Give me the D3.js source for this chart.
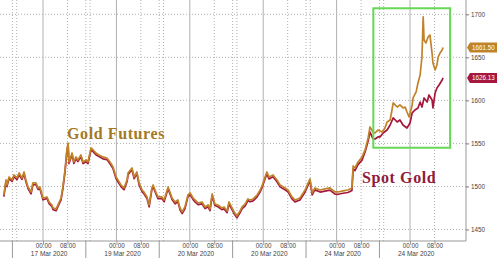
<!DOCTYPE html>
<html>
<head>
<meta charset="utf-8">
<script src="https://cdnjs.cloudflare.com/ajax/libs/d3/7.8.5/d3.min.js"></script>
<style>
body { margin: 0; background: #fff; }
svg { display: block; }
</style>
</head>
<body>
<svg></svg>
<script>
// hours since 17 Mar 00:00 (trading-time axis), prices in USD/oz
const futHours = [
  -12.8,-12.1,-11.8,-11.1,-10.1,-9.5,-8.5,-7.8,-6.9,-6.2,
  -5.6,-4.9,-3.9,-3.3,-2.3,-1.6,-1.0,-0.3,0,1.3,
  2.0,2.9,3.3,4.3,4.9,5.9,6.5,7.2,7.8,8.2,
  8.5,9.5,10.1,10.8,11.4,12.4,13.1,14.1,14.7,15.7,
  16.4,17.3,18.3,19.6,20.9,21.9,22.9,23.9,24.5,25.5,
  26.5,27.5,27.8,29.1,29.8,30.7,31.4,32.4,33.0,34.0,
  34.7,35.6,36.0,37.0,37.6,38.9,39.6,40.9,41.5,42.2,
  43.2,44.1,44.8,45.5,46.4,47.4,48.1,49.1,49.7,50.7,
  52.0,53.0,54.0,54.6,55.3,56.2,57.2,58.5,59.2,60.2,
  60.8,61.8,62.5,63.4,64.4,65.1,66.1,67.0,67.7,68.7,
  70.0,71.0,71.6,72.6,73.2,73.9,75.2,76.5,77.5,79.1,
  80.1,81.4,82.4,84.0,85.7,86.7,87.3,88.0,88.9,90.6,
  92.2,93.8,95.5,96.5,98.1,99.7,101.0,101.4,102.0,103.0,
  104.3,105.3,106.3,106.9,107.9,108.6,109.5,110.9,111.8,112.5,
  113.5,114.1,114.5,115.8,116.7,117.7,118.4,119.0,119.7,120.7,
  121.0,122.0,122.6,123.3,123.9,124.3,124.6,125.2,125.9,126.5,
  127.2,127.5,128.2,128.8,129.2,129.8,130.5,130.8
];
const futPrice = [
  1490.1,1507.6,1501.7,1511.0,1507.6,1513.4,1509.9,1515.7,1509.9,1516.8,
  1507.6,1499.4,1493.6,1504.1,1504.1,1498.3,1499.4,1490.1,1486.6,1487.8,
  1482.0,1478.5,1475.0,1473.9,1478.5,1486.6,1499.4,1519.2,1542.4,1550.5,
  1528.5,1538.9,1528.5,1534.3,1530.8,1536.6,1528.5,1530.8,1528.5,1544.7,
  1542.4,1538.9,1536.6,1534.3,1533.1,1528.5,1522.6,1511.0,1507.6,1501.7,
  1498.3,1507.6,1515.7,1521.5,1511.0,1516.8,1504.1,1495.9,1493.6,1487.8,
  1478.5,1498.3,1501.7,1492.5,1487.8,1487.8,1484.3,1499.4,1493.6,1486.6,
  1482.0,1484.3,1475.0,1470.4,1476.2,1490.1,1492.5,1486.6,1484.3,1480.8,
  1482.0,1476.2,1478.5,1473.9,1491.3,1479.7,1478.5,1475.0,1476.2,1471.5,
  1482.0,1475.0,1470.4,1465.7,1471.5,1476.2,1479.7,1485.5,1484.3,1485.5,
  1490.1,1495.9,1500.6,1511.0,1516.8,1511.0,1513.4,1507.6,1501.7,1498.3,
  1495.9,1487.8,1484.3,1486.6,1495.9,1504.1,1508.7,1492.5,1498.3,1495.9,
  1497.1,1498.3,1493.6,1493.6,1494.8,1495.9,1498.3,1523.8,1521.5,1528.5,
  1534.3,1542.4,1556.3,1569.1,1563.3,1562.1,1565.6,1563.3,1567.9,1574.9,
  1577.2,1588.8,1597.0,1592.3,1594.7,1591.2,1592.3,1586.5,1580.7,1594.7,
  1602.8,1609.8,1620.2,1629.5,1650.4,1696.9,1670.1,1666.7,1673.6,1676.0,
  1655.0,1643.4,1635.3,1641.1,1650.4,1655.0,1658.5,1661.5
];

// spot gold: same stamps as futures until the split on 24 Mar
const spotHours = futHours.slice(0, 131).concat([
  105.3,106.3,106.9,107.9,108.6,109.5,110.2,111.2,112.5,113.5,
  114.5,115.8,116.7,117.7,119.0,120.0,120.7,121.6,122.6,123.3,
  123.9,124.6,125.6,126.2,127.2,127.5,128.2,128.8,129.5,130.5,130.8
]);
const spotPrice = [
  1488.3,1505.5,1499.8,1509.2,1505.9,1511.3,1508.0,1513.6,1508.2,1514.7,
  1505.8,1497.5,1491.4,1502.3,1502.0,1496.6,1497.2,1488.4,1484.5,1486.0,
  1480.1,1476.7,1473.0,1471.8,1476.8,1484.5,1497.6,1517.0,1540.1,1548.2,
  1526.6,1536.9,1526.7,1532.2,1528.9,1534.4,1526.6,1528.7,1526.5,1542.6,
  1540.5,1536.8,1534.7,1532.1,1531.2,1526.4,1520.7,1509.1,1505.4,1499.9,
  1496.2,1505.7,1513.5,1519.6,1509.0,1514.9,1502.0,1494.0,1491.5,1485.9,
  1476.4,1496.5,1499.6,1490.7,1485.7,1485.9,1482.2,1497.5,1491.6,1484.8,
  1479.9,1482.4,1472.9,1468.5,1474.1,1488.2,1490.3,1484.7,1482.1,1478.9,
  1479.8,1474.3,1476.3,1472.0,1489.2,1477.8,1476.4,1473.1,1474.0,1469.6,
  1479.9,1473.0,1468.4,1463.6,1469.4,1474.2,1477.5,1483.6,1482.2,1483.3,
  1488.0,1493.8,1498.5,1508.9,1514.6,1508.8,1511.2,1505.5,1499.5,1496.1,
  1493.7,1485.6,1482.1,1484.3,1493.6,1501.8,1506.4,1490.2,1496.0,1493.5,
  1494.6,1495.8,1491.0,1490.9,1492.1,1493.0,1495.4,1520.5,1518.4,1525.3,
  1530.6,
  1540.1,1552.8,1563.3,1555.2,1555.2,1557.5,1557.5,1562.1,1565.6,1571.4,
  1579.6,1574.9,1577.2,1571.4,1567.9,1573.7,1585.4,1588.8,1591.2,1598.1,
  1592.3,1602.8,1598.1,1606.3,1600.5,1591.2,1608.6,1614.4,1617.9,1623.7,1626.13
];

const dayStarts = [0, 24, 48, 72, 96, 120];
const dayLabels = ['17 Mar 2020', '19 Mar 2020', '20 Mar 2020', '20 Mar 2020', '24 Mar 2020', '24 Mar 2020'];
const timeTicks = [0, 8];          // 00:00, 08:00 within each day
const dottedOffsets = [-10, -8.6, 8];
const sessionBreak = -10;          // 14:00 of the previous day
const yTicks = [1450, 1500, 1550, 1600, 1650, 1700];
const lastFut = 1661.50, lastSpot = 1626.13;
const boxHours = [108, 133.1], boxPrices = [1545, 1707];

const w = 499, h = 258;
const plotRight = 466, axisY = 241;
const futColor = '#c0832a', spotColor = '#a5173c';

const svg = d3.select('svg').attr('width', w).attr('height', h);

const x = d3.scaleLinear().domain([-14.06, 138.3]).range([0, plotRight]);
const y = d3.scaleLinear().domain([1450, 1700]).range([229.5, 14.3]);

//grid
const grid = svg.append('g');
grid.selectAll('.hgrid').data(yTicks).enter().append('line')
  .attr('x1', 0).attr('x2', plotRight)
  .attr('y1', d => y(d)).attr('y2', d => y(d))
  .attr('stroke', '#b0b0b0').attr('stroke-dasharray', '1,2');

const dotted = [];
dayStarts.forEach(d => dottedOffsets.forEach(o => dotted.push(d + o)));
grid.selectAll('.vdot').data(dotted).enter().append('line')
  .attr('x1', d => x(d)).attr('x2', d => x(d))
  .attr('y1', 0).attr('y2', axisY)
  .attr('stroke', '#b0b0b0').attr('stroke-dasharray', '1,2');

grid.selectAll('.vday').data(dayStarts).enter().append('line')
  .attr('x1', d => x(d)).attr('x2', d => x(d))
  .attr('y1', 0).attr('y2', axisY)
  .attr('stroke', '#b0b0b0');

//series
const line = d3.line().x(d => x(d[0])).y(d => y(d[1]));
svg.append('path')
  .datum(spotHours.map((t, i) => [t, spotPrice[i]]))
  .attr('d', line).attr('fill', 'none')
  .attr('stroke', spotColor).attr('stroke-width', 1.7)
  .attr('stroke-linejoin', 'round');
svg.append('path')
  .datum(futHours.map((t, i) => [t, futPrice[i]]))
  .attr('d', line).attr('fill', 'none')
  .attr('stroke', futColor).attr('stroke-width', 1.7)
  .attr('stroke-linejoin', 'round');

//green highlight box
svg.append('rect')
  .attr('x', x(boxHours[0])).attr('y', y(boxPrices[1]))
  .attr('width', x(boxHours[1]) - x(boxHours[0]))
  .attr('height', y(boxPrices[0]) - y(boxPrices[1]))
  .attr('fill', 'none').attr('stroke', '#66d856').attr('stroke-width', 2);

//series labels
svg.append('text')
  .attr('x', x(7.85)).attr('y', y(1555.7))
  .attr('font-family', 'Liberation Serif').attr('font-weight', 'bold')
  .attr('font-size', 16).attr('letter-spacing', 0.6)
  .attr('fill', '#a27a26').text('Gold Futures');
svg.append('text')
  .attr('x', x(104.3)).attr('y', y(1504.1))
  .attr('font-family', 'Liberation Serif').attr('font-weight', 'bold')
  .attr('font-size', 16).attr('letter-spacing', 0.6)
  .attr('fill', '#8e1c3b').text('Spot Gold');

//x axis
const xTickVals = [];
dayStarts.forEach(d => timeTicks.forEach(t => xTickVals.push(d + t)));
const xAxis = d3.axisBottom(x)
  .tickValues(xTickVals)
  .tickSize(3)
  .tickFormat(d => (d % 24 === 0 ? '00:00' : '08:00'));
const gx = svg.append('g')
  .attr('transform', 'translate(0,' + axisY + ')')
  .call(xAxis);
gx.select('.domain').attr('stroke', '#999').attr('d', 'M0,0H' + plotRight);
gx.selectAll('.tick line').attr('stroke', '#999');
gx.selectAll('.tick text').attr('y', 7).attr('dy', 0)
  .attr('font-family', 'Liberation Sans').attr('font-size', 6.3).attr('fill', '#444');

svg.selectAll('.sep').data(dayStarts).enter().append('line')
  .attr('x1', d => x(d + sessionBreak)).attr('x2', d => x(d + sessionBreak))
  .attr('y1', axisY).attr('y2', h)
  .attr('stroke', '#999');

svg.selectAll('.dlabel').data(dayStarts).enter().append('text')
  .attr('x', d => x(d + 2)).attr('y', 256)
  .attr('text-anchor', 'middle')
  .attr('font-family', 'Liberation Sans').attr('font-size', 6.5).attr('fill', '#444')
  .text((d, i) => dayLabels[i]);

//y axis on the right
svg.append('line')
  .attr('x1', plotRight).attr('x2', plotRight)
  .attr('y1', 0).attr('y2', axisY)
  .attr('stroke', '#999');
const gy = svg.append('g')
  .attr('transform', 'translate(' + plotRight + ',0)')
  .call(d3.axisRight(y).tickValues(yTicks).tickSize(3).tickPadding(2).tickFormat(d3.format('d')));
gy.select('.domain').remove();
gy.selectAll('.tick line').attr('stroke', '#777');
gy.selectAll('.tick text')
  .attr('font-family', 'Liberation Sans').attr('font-size', 6.3).attr('fill', '#444');

//last value tags
const tags = [
  { v: lastFut, text: lastFut.toFixed(2), color: futColor },
  { v: lastSpot, text: lastSpot.toFixed(2), color: spotColor }
];
const tag = svg.selectAll('.tag').data(tags).enter().append('g')
  .attr('transform', d => 'translate(' + (plotRight + 1) + ',' + y(d.v) + ')');
tag.append('path')
  .attr('d', 'M0,0L3,-5H30V5H3Z')
  .attr('fill', d => d.color);
tag.append('text')
  .attr('x', 16.5).attr('dy', '0.35em')
  .attr('text-anchor', 'middle')
  .attr('font-family', 'Liberation Sans').attr('font-size', 6.3).attr('fill', '#fff')
  .text(d => d.text);
</script>
</body>
</html>
